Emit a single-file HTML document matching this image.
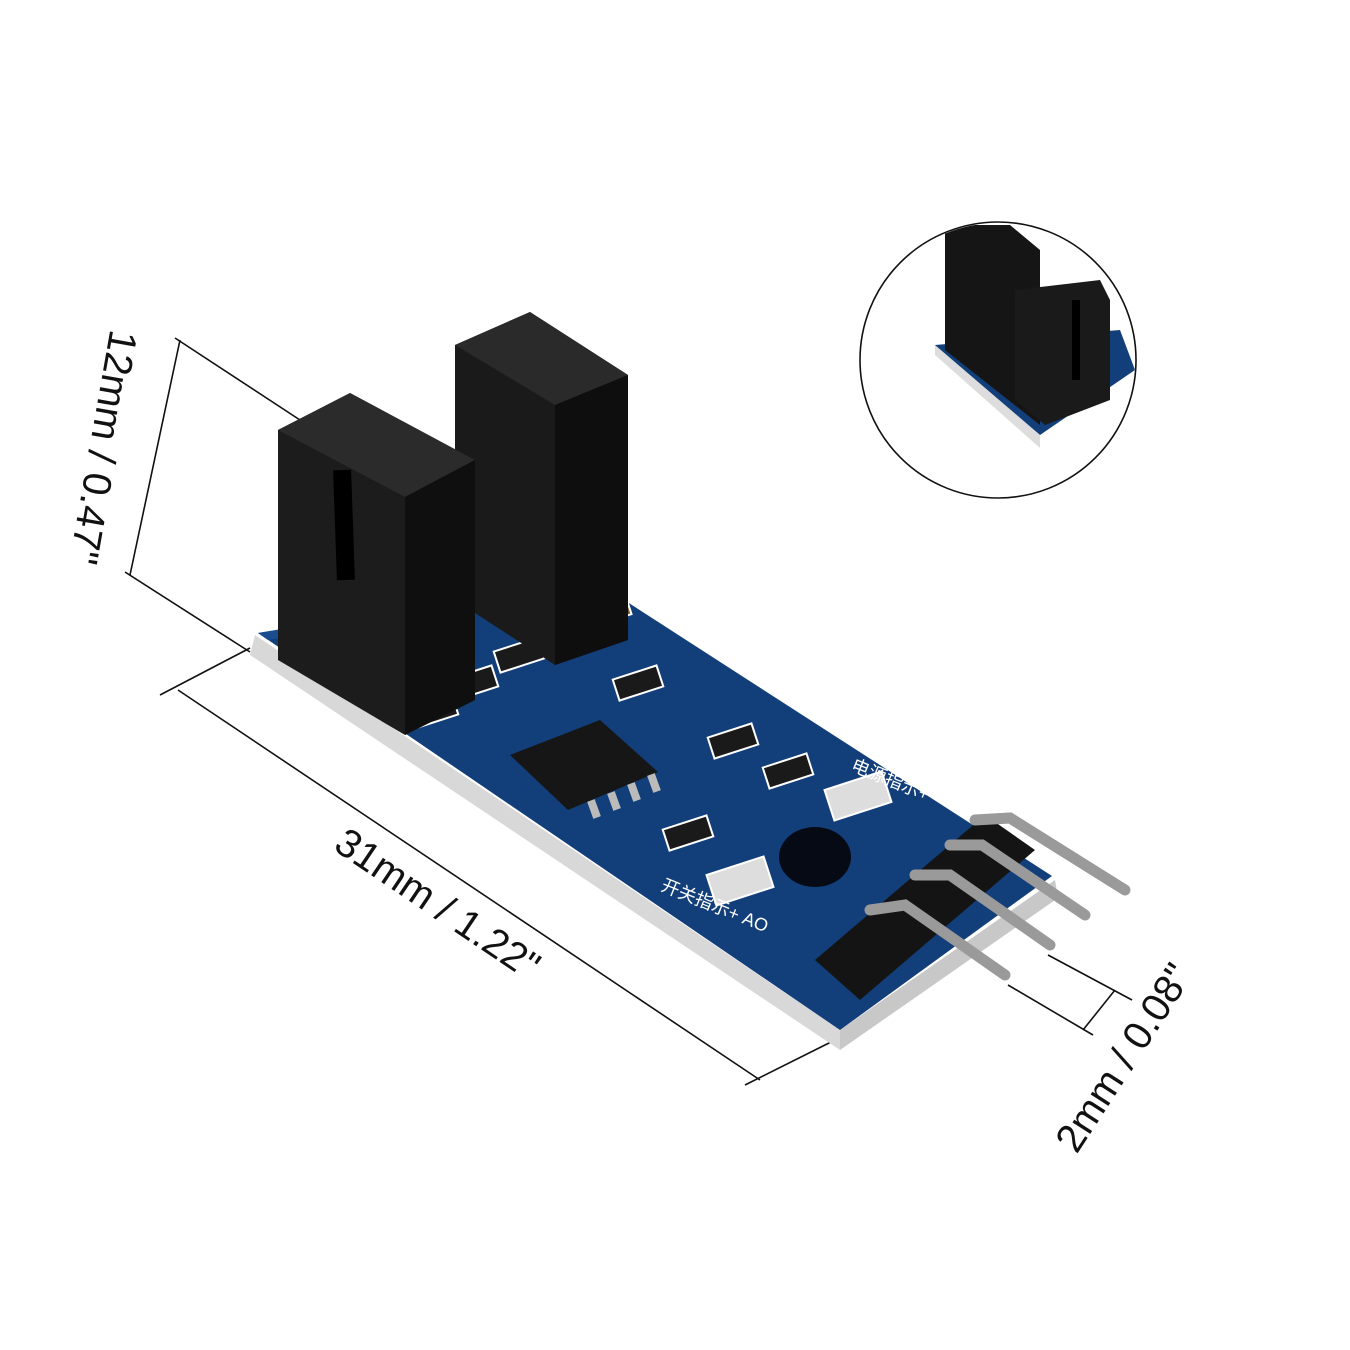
<!DOCTYPE html>
<html><head><meta charset="utf-8"><style>
html,body{margin:0;padding:0;background:#fff;}
svg{display:block}
text{font-family:"Liberation Sans","Noto Sans CJK SC",sans-serif;}
</style></head><body>
<svg width="1350" height="1350" viewBox="0 0 1350 1350" xmlns="http://www.w3.org/2000/svg">
<!-- dimension lines -->
<g stroke="#111" stroke-width="1.6" fill="none">
  <line x1="180" y1="340" x2="130" y2="575"/>
  <line x1="175" y1="338" x2="300" y2="420"/>
  <line x1="125" y1="572" x2="250" y2="652"/>
  <line x1="178" y1="690" x2="760" y2="1080"/>
  <line x1="160" y1="695" x2="250" y2="648"/>
  <line x1="745" y1="1085" x2="835" y2="1040"/>
  <line x1="1048" y1="955" x2="1132" y2="1000"/>
  <line x1="1008" y1="985" x2="1093" y2="1035"/>
  <line x1="1115" y1="990" x2="1083" y2="1030"/>
</g>
<text x="0" y="0" font-size="40" fill="#111" transform="translate(90,445) rotate(100)" text-anchor="middle">12mm / 0.47"</text>
<text x="0" y="0" font-size="40" fill="#111" transform="translate(430,915) rotate(34)" text-anchor="middle">31mm / 1.22"</text>
<text x="0" y="0" font-size="40" fill="#111" transform="translate(1135,1065) rotate(-57)" text-anchor="middle">2mm / 0.08"</text>

<!-- board side -->
<polygon points="255,635 840,1030 840,1050 250,655" fill="#d8d8d8"/>
<polygon points="840,1030 1055,880 1058,898 840,1050" fill="#c8c8c8"/>
<!-- board top -->
<polygon points="258,633 590,578 1052,876 840,1030" fill="#123f7a"/>
<polygon points="258,633 590,578 600,585 268,640" fill="#1a4d8f"/>
<!-- hole -->
<ellipse cx="815" cy="857" rx="36" ry="30" fill="#060a14"/>
<!-- chip -->
<polygon points="510,755 600,720 658,772 568,810" fill="#161616"/>
<g fill="#bbb">
<rect x="590" y="800" width="8" height="18" transform="rotate(-20 594 809)"/>
<rect x="610" y="792" width="8" height="18" transform="rotate(-20 614 801)"/>
<rect x="630" y="783" width="8" height="18" transform="rotate(-20 634 792)"/>
<rect x="650" y="774" width="8" height="18" transform="rotate(-20 654 783)"/>
</g>
<!-- resistors / caps -->
<g fill="#1a1a1a" stroke="#fff" stroke-width="2">
<rect x="410" y="700" width="46" height="22" transform="rotate(-18 433 711)"/>
<rect x="450" y="672" width="46" height="22" transform="rotate(-18 473 683)"/>
<rect x="496" y="644" width="46" height="22" transform="rotate(-18 519 655)"/>
<rect x="615" y="672" width="46" height="22" transform="rotate(-18 638 683)"/>
<rect x="710" y="730" width="46" height="22" transform="rotate(-18 733 741)"/>
<rect x="765" y="760" width="46" height="22" transform="rotate(-18 788 771)"/>
<rect x="665" y="822" width="46" height="22" transform="rotate(-18 688 833)"/>
<rect x="540" y="620" width="46" height="30" transform="rotate(-18 563 635)" fill="#7a5a2a"/>
<rect x="582" y="592" width="46" height="30" transform="rotate(-18 605 607)" fill="#7a5a2a"/>
<rect x="828" y="780" width="60" height="32" transform="rotate(-18 858 796)" fill="#ddd"/>
<rect x="710" y="865" width="60" height="32" transform="rotate(-18 740 881)" fill="#ddd"/>
</g>
<text font-size="18" fill="#fff" transform="translate(660,890) rotate(22)">开关指示+ AO</text>
<text font-size="18" fill="#fff" transform="translate(850,770) rotate(22)">电源指示+</text>
<!-- header -->
<polygon points="815,960 985,815 1035,850 860,1000" fill="#141414"/>
<g stroke="#9a9a9a" stroke-width="11" stroke-linecap="round" fill="none">
<path d="M975,820 L1010,818 L1125,890"/>
<path d="M950,845 L982,845 L1085,915"/>
<path d="M915,875 L950,875 L1050,945"/>
<path d="M870,910 L905,905 L1005,975"/>
</g>
<!-- back sensor -->
<polygon points="455,345 530,312 628,375 628,640 555,665 455,600" fill="#1a1a1a"/>
<polygon points="455,345 530,312 628,375 555,405" fill="#2a2a2a"/>
<polygon points="555,405 628,375 628,640 555,665" fill="#0e0e0e"/>
<!-- front sensor -->
<polygon points="278,430 350,393 475,460 475,700 405,735 278,660" fill="#1c1c1c"/>
<polygon points="278,430 350,393 475,460 405,497" fill="#2b2b2b"/>
<polygon points="405,497 475,460 475,700 405,735" fill="#0f0f0f"/>
<rect x="335" y="470" width="18" height="110" fill="#000" transform="rotate(-2 344 525)"/>
<!-- inset circle -->
<circle cx="998" cy="360" r="138" fill="#fff" stroke="#111" stroke-width="1.6"/>
<clipPath id="c"><circle cx="998" cy="360" r="137"/></clipPath>
<g clip-path="url(#c)">
<polygon points="935,345 1120,330 1135,370 1040,435 935,350" fill="#123f7a"/>
<polygon points="935,345 1040,435 1040,448 935,355" fill="#ddd"/>
<polygon points="945,225 1010,225 1040,250 1040,425 945,350" fill="#151515"/>
<polygon points="1015,290 1100,280 1110,300 1110,400 1045,425 1015,400" fill="#1a1a1a"/>
<rect x="1072" y="300" width="8" height="80" fill="#000"/>
</g>
</svg>
</body></html>
